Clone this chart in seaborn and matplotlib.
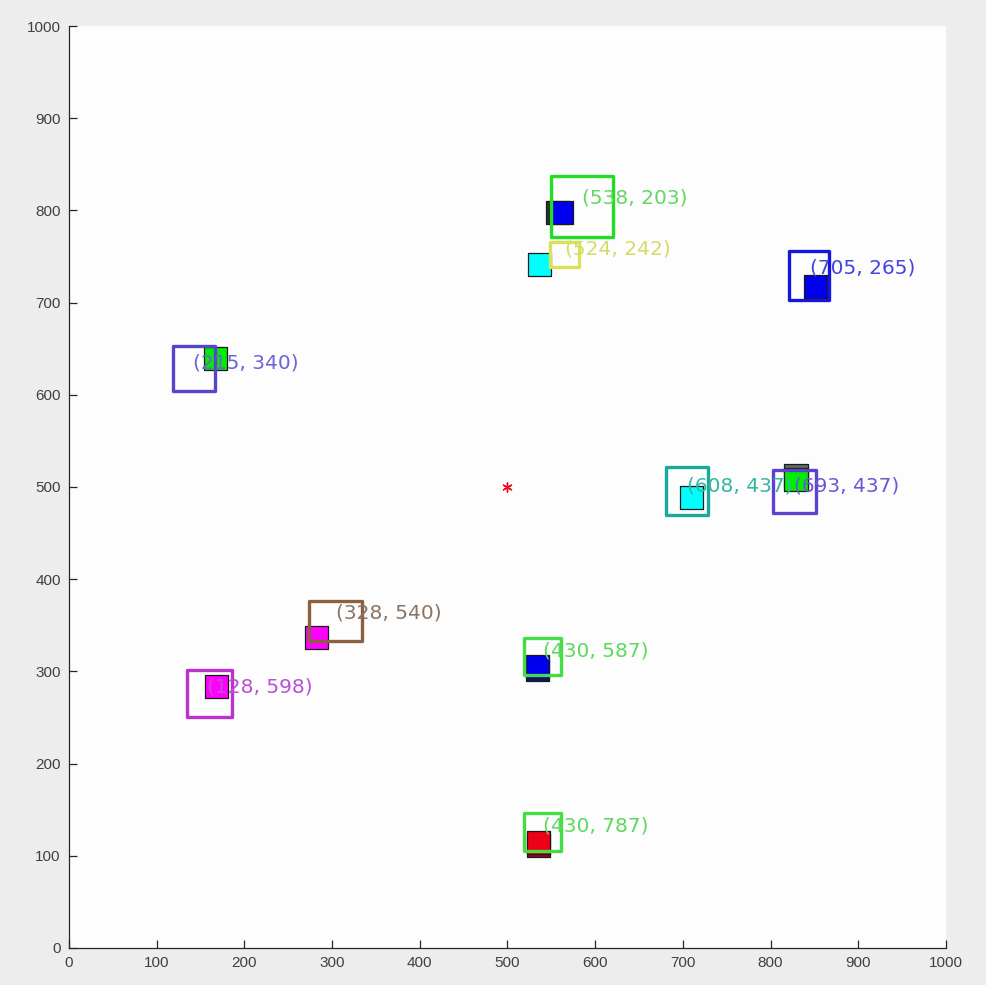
import matplotlib
matplotlib.use("Agg")
import matplotlib.pyplot as plt
from matplotlib.patches import Rectangle
import pandas as pd
import seaborn as sns

# Detection boxes: label text, extent in axis units, outline colour, text colour, text anchor
box_labels = ["(538, 203)", "(524, 242)", "(705, 265)", "(215, 340)", "(608, 437)",
              "(693, 437)", "(328, 540)", "(128, 598)", "(430, 587)", "(430, 787)"]
box_x0 = [550, 548, 821, 119, 681, 803, 274, 135, 519, 519]
box_x1 = [620, 581, 867, 167, 729, 852, 334, 186, 561, 561]
box_y0 = [771, 739, 703, 604, 470, 472, 333, 251, 296, 105]
box_y1 = [837, 766, 756, 653, 522, 518, 376, 302, 336, 146]
box_colors = ["#22dd22", "#d9e05a", "#1515dd", "#5544cc", "#1aaa99",
              "#6040d0", "#8a6040", "#bb33cc", "#44dd44", "#44dd44"]
text_colors = ["#62d862", "#d4dc68", "#4444e0", "#6e64d2", "#30b8a4",
               "#6e56d2", "#8c7464", "#bc50d2", "#5cda5c", "#5cda5c"]
text_x = [585, 566, 845, 141, 705, 827, 304, 157, 540, 540]
text_y = [813, 758, 737, 634, 501, 501, 363, 283, 322, 132]

# Tracked points (square markers); darker ones sit underneath as earlier positions
point_names = ["p1b", "p2b", "p3b", "p4b",
               "p1", "p2", "p3", "p4", "p5", "p6", "p7", "p8", "p9", "p10"]
point_x = [557, 534, 535, 829,
           561, 537, 851, 167, 710, 829, 282, 168, 534, 535]
point_y = [798, 302, 111, 512,
           798, 741, 717, 639, 489, 508, 337, 284, 305, 114]
point_colors = ["#2a3a2a", "#101080", "#a00020", "#5a6e5a",
                "#0000ee", "#00ffff", "#0000ee", "#00ee00", "#00ffff",
                "#00ee00", "#ff00ff", "#ff00ff", "#0000ee", "#ee0018"]

# Reference centre
center_x = [500]
center_y = [500]

sns.set_style("white")
plt.rcParams["font.family"] = ["Liberation Sans", "DejaVu Sans"]

fig = plt.figure(figsize=(9.86, 9.85), dpi=100, facecolor="#ededed")
ax = fig.add_axes([0.070, 0.0376, 0.8894, 0.9360])
ax.set_facecolor("#fdfdfd")

pts = pd.DataFrame({"x": point_x, "y": point_y, "name": point_names})
sns.scatterplot(data=pts, x="x", y="y", hue="name",
                palette=dict(zip(point_names, point_colors)),
                marker="s", s=275, edgecolor="#1a1a1a", linewidth=0.9,
                legend=False, ax=ax, zorder=2)

ctr = pd.DataFrame({"x": center_x, "y": center_y})
sns.scatterplot(data=ctr, x="x", y="y", marker=(6, 2, 0), s=45,
                color="#e8101a", linewidth=1.0, ax=ax, zorder=3)

for lab, x0, x1, y0, y1, bc, tc, tx, ty in zip(
        box_labels, box_x0, box_x1, box_y0, box_y1,
        box_colors, text_colors, text_x, text_y):
    ax.add_patch(Rectangle((x0, y0), x1 - x0, y1 - y0, fill=False,
                           edgecolor=bc, linewidth=2.4, zorder=4,
                           joinstyle="round"))
    ax.text(tx, ty, lab, color=tc, fontsize=14.5, va="center", ha="left",
            family="DejaVu Sans", zorder=5)

ax.set_xlim(0, 1000)
ax.set_ylim(0, 1000)
ax.set_xticks(range(0, 1001, 100))
ax.set_yticks(range(0, 1001, 100))
ax.set_xlabel("")
ax.set_ylabel("")

for side in ("top", "right"):
    ax.spines[side].set_visible(False)
for side in ("left", "bottom"):
    ax.spines[side].set_color("#262626")
    ax.spines[side].set_linewidth(0.9)

ax.tick_params(axis="both", direction="in", length=6, width=0.9,
               colors="#262626", labelcolor="#404040", labelsize=11, pad=6,
               left=True, bottom=True, top=False, right=False)

fig.savefig("out.png", dpi=100, facecolor=fig.get_facecolor())
